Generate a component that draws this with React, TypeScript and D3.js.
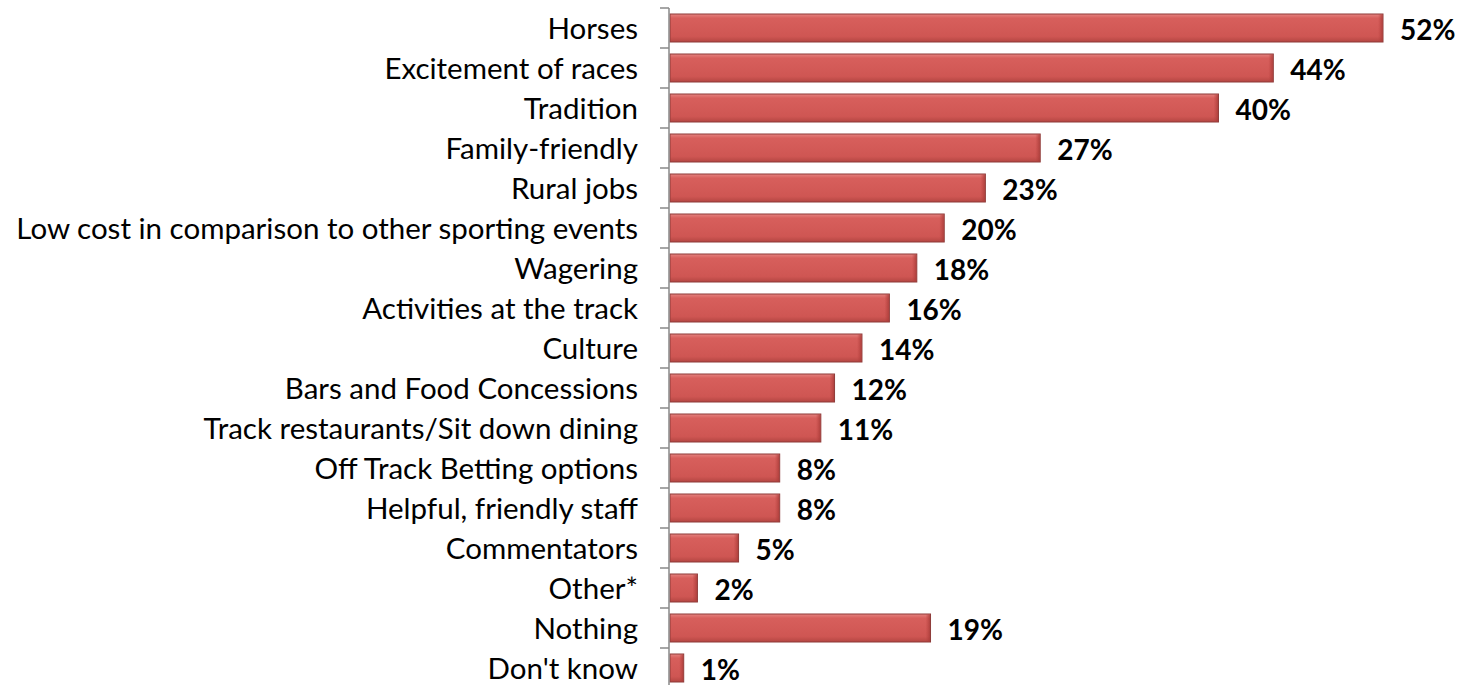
import React from "react";
import * as d3 from "d3";

const categories = [
  "Horses",
  "Excitement of races",
  "Tradition",
  "Family-friendly",
  "Rural jobs",
  "Low cost in comparison to other sporting events",
  "Wagering",
  "Activities at the track",
  "Culture",
  "Bars and Food Concessions",
  "Track restaurants/Sit down dining",
  "Off Track Betting options",
  "Helpful, friendly staff",
  "Commentators",
  "Other*",
  "Nothing",
  "Don't know",
];
const values = [52, 44, 40, 27, 23, 20, 18, 16, 14, 12, 11, 8, 8, 5, 2, 19, 1];

const W = 1460;
const H = 685;
const axisX = 669;
const top = 8;
const step = 40;

export default function App() {
  const y = d3
    .scaleBand<string>()
    .domain(categories)
    .range([top, top + step * categories.length])
    .paddingInner(0.3)
    .paddingOuter(0.15);
  const x = d3.scaleLinear().domain([0, 52]).range([axisX + 1, 1383]);
  const boundaries = d3.range(categories.length + 1).map((i) => top + i * step);
  const font = "Lato, 'Open Sans', sans-serif";

  return (
    <svg width={W} height={H} style={{ position: "absolute", left: 0, top: 0, background: "#fff" }}>
      <defs>
        <linearGradient id="barGrad" x1="0" y1="0" x2="0" y2="1">
          <stop offset="0" stopColor="#e58380" />
          <stop offset="0.15" stopColor="#d75f5c" />
          <stop offset="0.8" stopColor="#cf5653" />
          <stop offset="1" stopColor="#b44642" />
        </linearGradient>
        <linearGradient id="edgeGrad" x1="0" y1="0" x2="1" y2="0">
          <stop offset="0" stopColor="#b8403d" stopOpacity={0} />
          <stop offset="1" stopColor="#a63b38" stopOpacity={0.8} />
        </linearGradient>
      </defs>
      {categories.map((c, i) => {
        const by = y(c)!;
        const bh = y.bandwidth();
        const x1 = x(values[i]);
        const bw = x1 - x(0);
        const ew = Math.min(5, bw / 3);
        return (
          <g key={c}>
            <rect
              x={x(0)}
              y={by}
              width={bw}
              height={bh}
              fill="url(#barGrad)"
              stroke="#8e3b39"
              strokeWidth={1}
            />
            <rect x={x1 - ew} y={by + 0.5} width={ew - 0.5} height={bh - 1} fill="url(#edgeGrad)" />
            <text
              x={axisX - 31}
              y={by + bh / 2}
              dy="0.36em"
              textAnchor="end"
              fontFamily={font}
              fontSize={29.5}
              fill="#000"
            >
              {c}
            </text>
            <text
              x={x1 + 17}
              y={by + bh / 2 + 1.5}
              dy="0.36em"
              fontFamily={font}
              fontWeight="bold"
              fontSize={28}
              fill="#000"
            >
              {values[i]}%
            </text>
          </g>
        );
      })}
      <line x1={axisX} x2={axisX} y1={top} y2={H} stroke="#888" strokeWidth={1.5} />
      {boundaries.map((b) => (
        <line key={b} x1={axisX - 9} x2={axisX} y1={b} y2={b} stroke="#888" strokeWidth={1.5} />
      ))}
    </svg>
  );
}
